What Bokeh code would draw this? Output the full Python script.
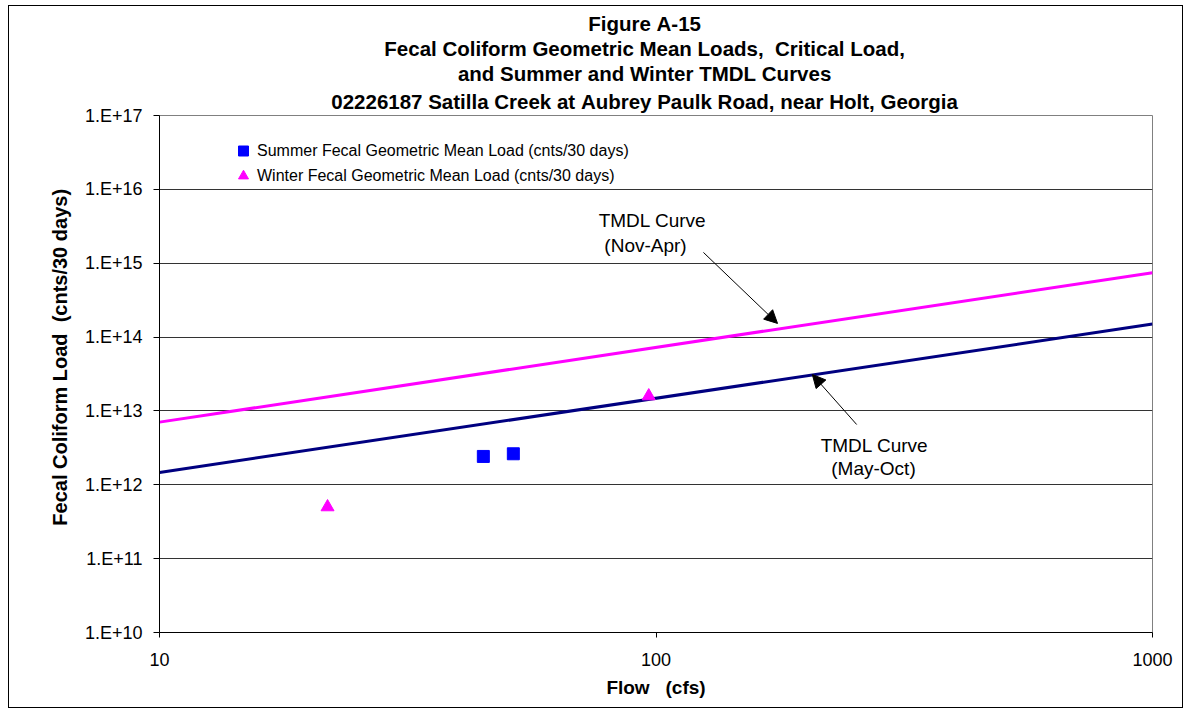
from bokeh.plotting import figure
from bokeh.models import (Range1d, FixedTicker, CustomJSTickFormatter, Label, Arrow,
                          NormalHead, Legend, LegendItem, Title)
from bokeh.embed import file_html
from bokeh.resources import INLINE

# ---------------- data ----------------
title_lines = [
    "Figure A-15",
    "Fecal Coliform Geometric Mean Loads,  Critical Load,",
    "and Summer and Winter TMDL Curves",
    "02226187 Satilla Creek at Aubrey Paulk Road, near Holt, Georgia",
]
x_title = "Flow   (cfs)"
y_title = "Fecal Coliform Load  (cnts/30 days)"

summer_label = "Summer Fecal Geometric Mean Load (cnts/30 days)"
winter_label = "Winter Fecal Geometric Mean Load (cnts/30 days)"

summer_flow = [44.9, 51.6]
summer_load = [2.42e12, 2.63e12]
winter_flow = [21.8, 96.7]
winter_load = [5.0e11, 1.59e13]

curve_flow = [10, 1000]
tmdl_summer = [1.47e12, 1.50e14]   # May-Oct
tmdl_winter = [7.05e12, 7.45e14]   # Nov-Apr

x_ticks = [10, 100, 1000]
x_tick_labels = ["10", "100", "1000"]
y_ticks = [1e10, 1e11, 1e12, 1e13, 1e14, 1e15, 1e16, 1e17]
y_tick_labels = ["1.E+10", "1.E+11", "1.E+12", "1.E+13", "1.E+14", "1.E+15", "1.E+16", "1.E+17"]

FONT = "Liberation Sans"
NB = "\u00a0"

def keep_spaces(s):
    return s.replace(" ", NB)

# ---------------- figure ----------------
# outer chart border sits at page x=8, y=5; frame spans x 159..1152, y 115..632
p = figure(width=1175, height=703, x_axis_type="log", y_axis_type="log",
           x_range=Range1d(10, 1000), y_range=Range1d(1e10, 1e17),
           title=None, output_backend="svg", toolbar_location=None,
           min_border_left=150, min_border_right=32, min_border_top=109, min_border_bottom=77)
p.styles = {"border": "1px solid black", "box-sizing": "border-box",
            "margin-left": "8px", "margin-top": "5px"}
p.background_fill_color = "white"
p.border_fill_color = "white"
p.outline_line_color = "#808080"
p.outline_line_width = 1

# title lines: first added sits nearest the frame
for i, line in enumerate(reversed(title_lines)):
    p.add_layout(Title(text=keep_spaces(line) + NB * 4, align="center", text_font=FONT,
                       text_font_size="20.5px", text_font_style="bold", text_color="black",
                       standoff=6 if i == 0 else 0), "above")

fmt_code = """
let best = 0, bd = 1e9;
for (let i = 0; i < tv.length; i++) {
  const d = Math.abs(Math.log10(tv[i]) - Math.log10(tick));
  if (d < bd) { bd = d; best = i; }
}
return labels[best];
"""

p.xaxis.ticker = FixedTicker(ticks=x_ticks, minor_ticks=[])
p.xaxis.formatter = CustomJSTickFormatter(args=dict(tv=x_ticks, labels=x_tick_labels), code=fmt_code)
p.yaxis.ticker = FixedTicker(ticks=y_ticks, minor_ticks=[])
p.yaxis.formatter = CustomJSTickFormatter(args=dict(tv=y_ticks, labels=y_tick_labels), code=fmt_code)

for ax in (p.xaxis, p.yaxis):
    ax.axis_line_color = "black"
    ax.axis_line_width = 1
    ax.major_tick_line_color = "black"
    ax.major_tick_in = 0
    ax.minor_tick_line_color = None
    ax.major_label_text_font = FONT
    ax.major_label_text_font_size = "18px"
    ax.major_label_text_color = "black"
    ax.axis_label_text_font = FONT
    ax.axis_label_text_font_style = "bold"
    ax.axis_label_text_color = "black"

p.xaxis.axis_label = keep_spaces(x_title)
p.xaxis.axis_label_text_font_size = "19px"
p.xaxis.major_tick_out = 5
p.xaxis.major_label_standoff = 15
p.xaxis.axis_label_standoff = 8
p.yaxis.axis_label = NB * 6 + keep_spaces(y_title)
p.yaxis.axis_label_text_font_size = "20px"
p.yaxis.major_tick_out = 6
p.yaxis.major_label_standoff = 11
p.yaxis.axis_label_standoff = 11

p.xgrid.grid_line_color = None
p.ygrid.grid_line_color = "#333333"
p.ygrid.grid_line_width = 1

# ---------------- series ----------------
p.line(curve_flow, tmdl_winter, line_color="#FF00FF", line_width=3)
p.line(curve_flow, tmdl_summer, line_color="#000080", line_width=3)
r_sum = p.scatter(summer_flow, summer_load, marker="square", size=12,
                  fill_color="#0000FF", line_color="#0000FF")
r_win = p.scatter(winter_flow, winter_load, marker="triangle", size=13,
                  fill_color="#FF00FF", line_color="#FF00FF")

legend = Legend(items=[LegendItem(label=summer_label, renderers=[r_sum]),
                       LegendItem(label=winter_label, renderers=[r_win])],
                location=(70, 444), padding=0, margin=0, spacing=0,
                glyph_width=28, glyph_height=25, label_standoff=0,
                label_text_font=FONT, label_text_font_size="16px",
                label_text_color="black",
                background_fill_alpha=0, border_line_alpha=0)
p.add_layout(legend)

# ---------------- annotations (screen px relative to frame) ----------------
FL, FB = 159, 632  # frame left / bottom in page pixels

def sx(x):
    return x - FL

def sy(y):
    return FB - y

notes = [("TMDL Curve", 652, 220), ("(Nov-Apr)", 645, 245),
         ("TMDL Curve", 874, 445), ("(May-Oct)", 873, 468)]
for txt, nx, ny in notes:
    p.add_layout(Label(x=sx(nx), y=sy(ny), x_units="screen", y_units="screen",
                       text=txt, text_align="center", text_baseline="middle",
                       text_font=FONT, text_font_size="19px", text_color="black"))

arrows = [((124.6, 1.40e15), (175.7, 1.53e14)),
          ((253.6, 6.55e12), (206.5, 3.11e13))]
for (x0, y0), (x1, y1) in arrows:
    p.add_layout(Arrow(x_start=x0, y_start=y0, x_end=x1, y_end=y1,
                       line_color="black", line_width=1,
                       end=NormalHead(size=13, fill_color="black", line_color="black")))

open("out.html", "w").write(file_html(p, INLINE))
